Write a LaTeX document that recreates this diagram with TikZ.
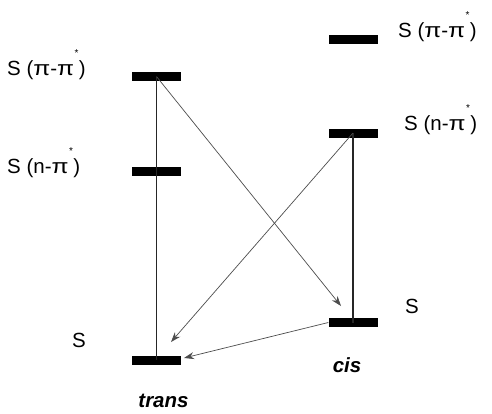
\documentclass[tikz,border=0pt]{standalone}
\usepackage{fontspec}
\setmainfont{Liberation Sans}
\usetikzlibrary{arrows.meta}
\newcommand{\wpi}{\scalebox{1.2}[1]{π}}
\newcommand{\stmark}{\kern0.5pt\raisebox{0.88em}{\fontsize{10}{10}\selectfont *}\kern0.3pt}
\begin{document}
\begin{tikzpicture}[x=1pt,y=-1pt,
  lvl/.style={fill=black,draw=none,minimum width=49pt,minimum height=9pt,inner sep=0pt},
  lab/.style={font=\fontsize{20.5}{24}\selectfont,inner sep=0pt,anchor=base west},
  vline/.style={line width=1.5pt,draw=black!85},
  trn/.style={line width=0.7pt,draw=black!70,-{Stealth[length=10pt,width=7pt]}}]
\useasboundingbox (0,0) rectangle (492,413);
% trans levels
\node[lvl] (tpp) at (156.5,76.5) {};
\node[lvl] (tnp) at (156.5,171) {};
\node[lvl] (ts) at (156.5,360) {};
% cis levels
\node[lvl] (cpp) at (353,39) {};
\node[lvl] (cnp) at (353,133) {};
\node[lvl] (cs) at (353,322.5) {};
% verticals
\draw[vline] (tpp.center) -- (ts.center);
\draw[vline] (cnp.center) -- (cs.center);
% transitions
\coordinate (a1) at (341,306);
\coordinate (a2) at (171,342);
\coordinate (a3) at (184,358);
\draw[trn] (tpp.center) -- (a1);
\draw[trn] (cnp.center) -- (a2);
\draw[trn] (cs.west) -- (a3);
% labels
\node[lab] (l1) at (7,75) {S (\wpi-\wpi\stmark)};
\node[lab] (l2) at (7,173) {S (n-\wpi\stmark)};
\node[lab] (l3) at (72,347) {S};
\node[lab] (r1) at (398,37) {S (\wpi-\wpi\stmark)};
\node[lab] (r2) at (404,130) {S (n-\wpi\stmark)};
\node[lab] (r3) at (405,313) {S};
\node[lab,anchor=base,font=\fontsize{20.5}{24}\selectfont\bfseries\itshape] (tr) at (163.5,407) {trans};
\node[lab,anchor=base,font=\fontsize{20.5}{24}\selectfont\bfseries\itshape] (ci) at (347,372) {cis};
\end{tikzpicture}
\end{document}
